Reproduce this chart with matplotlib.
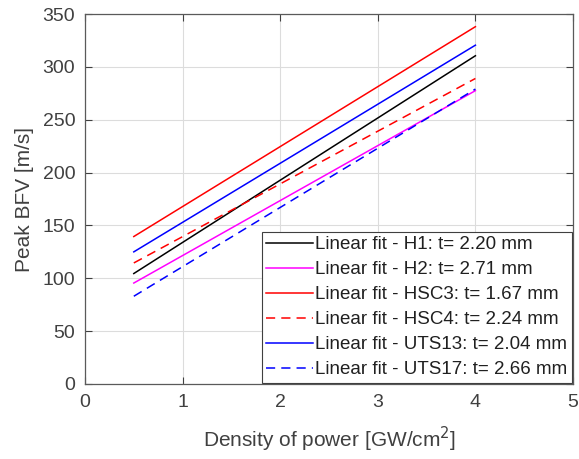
import matplotlib
matplotlib.use("Agg")
import matplotlib.pyplot as plt
import numpy as np

plt.rcParams['font.family'] = ['Liberation Sans', 'DejaVu Sans']

x_range = [0.5, 4.0]
labels = ["Linear fit - H1: t= 2.20 mm", "Linear fit - H2: t= 2.71 mm",
          "Linear fit - HSC3: t= 1.67 mm", "Linear fit - HSC4: t= 2.24 mm",
          "Linear fit - UTS13: t= 2.04 mm", "Linear fit - UTS17: t= 2.66 mm"]
start_vals = [104.5, 95.5, 139.5, 114.5, 125.0, 83.0]
end_vals = [310.5, 277.5, 338.0, 289.0, 320.5, 279.0]
colors = ['black', '#ff00ff', '#ff0000', '#ff0000', '#0000ff', '#0000ff']
styles = ['-', '-', '-', '--', '-', '--']

fig = plt.figure(figsize=(5.79, 4.59), dpi=100)
ax = fig.add_axes([85/579, 1-384/459, (573-85)/579, (384-14)/459])
for lab, s, e, c, ls in zip(labels, start_vals, end_vals, colors, styles):
    ax.plot(x_range, [s, e], color=c, linestyle=ls, linewidth=1.1, label=lab,
            dashes=(6, 4) if ls == '--' else (None, None))

ax.set_xlim(0, 5)
ax.set_ylim(0, 350)
ax.set_xticks(range(0, 6))
ax.set_yticks(range(0, 351, 50))
gc = '#404040'
ax.grid(True, color='#dcdcdc', linewidth=0.8)
ax.set_axisbelow(True)
for sp in ax.spines.values():
    sp.set_color('#5a5a5a')
    sp.set_linewidth(0.9)
ax.tick_params(direction='in', length=5, colors='#404040', labelsize=14, top=True, right=True,
               labeltop=False, labelright=False)
ax.tick_params(axis='x', pad=7)
ax.tick_params(axis='y', pad=7)
ax.set_xlabel('Density of power [GW/cm$^2$]', fontsize=15, color=gc, labelpad=10)
ax.set_ylabel('Peak BFV [m/s]', fontsize=15, color=gc, labelpad=6)
leg = ax.legend(loc='lower right', fontsize=13.5, frameon=True, fancybox=False,
                edgecolor='#404040', framealpha=1, handlelength=2.5, handletextpad=0.1,
                borderpad=0.25, labelspacing=0.42, borderaxespad=0.05)
leg.get_frame().set_linewidth(0.8)
for t in leg.get_texts():
    t.set_color('#202020')
fig.savefig('out.png', dpi=100)
